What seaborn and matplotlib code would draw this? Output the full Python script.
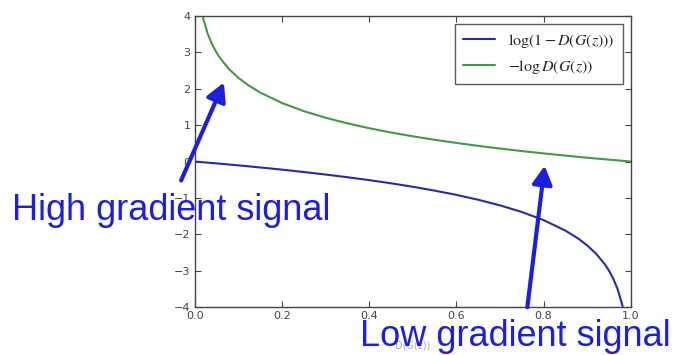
import matplotlib
matplotlib.use("Agg")
import matplotlib.pyplot as plt
import seaborn as sns
import pandas as pd

# Data
x_green = [0.018, 0.02, 0.03, 0.04, 0.05, 0.06, 0.08, 0.10, 0.12, 0.15, 0.20, 0.25, 0.30,
           0.35, 0.40, 0.45, 0.50, 0.55, 0.60, 0.65, 0.70, 0.75, 0.80, 0.85, 0.90, 0.95, 1.00]
y_green = [4.017, 3.912, 3.507, 3.219, 2.996, 2.813, 2.526, 2.303, 2.120, 1.897, 1.609, 1.386, 1.204,
           1.050, 0.916, 0.799, 0.693, 0.598, 0.511, 0.431, 0.357, 0.288, 0.223, 0.163, 0.105, 0.051, 0.0]
x_blue = [0.0, 0.05, 0.10, 0.15, 0.20, 0.25, 0.30, 0.35, 0.40, 0.45, 0.50, 0.55, 0.60, 0.65,
          0.70, 0.75, 0.80, 0.85, 0.88, 0.90, 0.92, 0.94, 0.95, 0.96, 0.97, 0.98, 0.982]
y_blue = [0.0, -0.051, -0.105, -0.163, -0.223, -0.288, -0.357, -0.431, -0.511, -0.598, -0.693, -0.799,
          -0.916, -1.050, -1.204, -1.386, -1.609, -1.897, -2.120, -2.303, -2.526, -2.813, -2.996,
          -3.219, -3.507, -3.912, -4.017]
labels = [r'$\log(1-D(G(z)))$', r'$-\log D(G(z))$']
x_ticks = [0.0, 0.2, 0.4, 0.6, 0.8, 1.0]
y_ticks = [-4, -3, -2, -1, 0, 1, 2, 3, 4]

sns.set_style("ticks")
plt.rcParams['font.family'] = ['DejaVu Sans']
plt.rcParams['mathtext.fontset'] = 'stix'

blue_c = '#2a2aa8'
green_c = '#3f9c45'
text_c = '#1c1ee0'

fig = plt.figure(figsize=(6.76, 3.55), dpi=100)
ax = fig.add_axes([0.288, 0.135, 0.645, 0.82])

df_b = pd.DataFrame({'x': x_blue, 'y': y_blue})
df_g = pd.DataFrame({'x': x_green, 'y': y_green})
sns.lineplot(data=df_b, x='x', y='y', ax=ax, color=blue_c, lw=1.5, label=labels[0], sort=False)
sns.lineplot(data=df_g, x='x', y='y', ax=ax, color=green_c, lw=1.5, label=labels[1], sort=False)

ax.set_xlim(0, 1)
ax.set_ylim(-4, 4)
ax.set_xticks(x_ticks)
ax.set_yticks(y_ticks)
ax.set_xticklabels([f"{t:.1f}" for t in x_ticks])
ax.set_yticklabels([("\u2212" + str(-t)) if t < 0 else str(t) for t in y_ticks])
ax.tick_params(direction='in', top=True, right=True, length=4, width=0.8,
               labelsize=8, colors='#444444', pad=3)
for s in ax.spines.values():
    s.set_color('#444444')
    s.set_linewidth(1.0)
ax.set_xlabel('D(G(z))', fontsize=7, color='#aaaaaa', labelpad=14)
ax.set_ylabel('')

leg = ax.legend(loc='upper right', fontsize=11.5, frameon=True, fancybox=False,
                borderpad=0.5, handlelength=2.0, labelspacing=0.5, borderaxespad=0.5)
leg.get_frame().set_edgecolor('#333333')
leg.get_frame().set_linewidth(1.0)

ax.annotate('', xy=(225, 275), xycoords='figure pixels', xytext=(180, 172),
            textcoords='figure pixels',
            arrowprops=dict(arrowstyle='-|>,head_length=1.1,head_width=0.6', color=text_c, lw=3))
ax.annotate('', xy=(545, 192), xycoords='figure pixels', xytext=(527, 45),
            textcoords='figure pixels',
            arrowprops=dict(arrowstyle='-|>,head_length=1.1,head_width=0.6', color=text_c, lw=3))
fig.text(12 / 676, 1 - 210 / 355, 'High gradient signal', fontsize=26, color=text_c,
         family='Liberation Sans', va='center', ha='left')
fig.text(360 / 676, 1 - 337 / 355, 'Low gradient signal', fontsize=26, color=text_c,
         family='Liberation Sans', va='center', ha='left')

fig.savefig('out.png', dpi=100, facecolor='white')
